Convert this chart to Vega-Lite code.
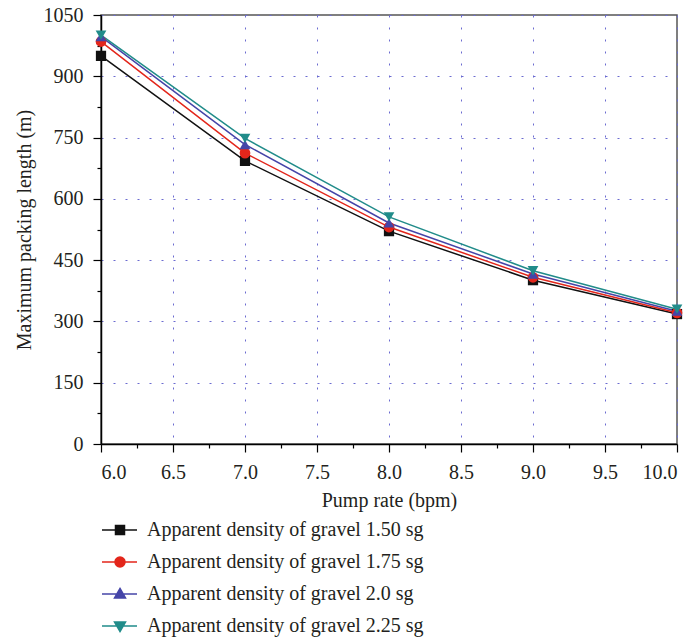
{
  "$schema": "https://vega.github.io/schema/vega-lite/v6.json",
  "width": 576,
  "height": 429,
  "autosize": {"type": "none"},
  "padding": {"left": 101, "top": 15, "right": 18, "bottom": 196},
  "background": "white",
  "config": {
    "font": "Liberation Serif",
    "view": {"stroke": "#555555", "strokeWidth": 1.5},
    "axis": {"labelFont": "Liberation Serif", "titleFont": "Liberation Serif"},
    "legend": {"labelFont": "Liberation Serif"}
  },
  "data": {
    "values": [
      {"rate": 6, "length": 950, "series": "Apparent density of gravel 1.50 sg"},
      {"rate": 7, "length": 693, "series": "Apparent density of gravel 1.50 sg"},
      {"rate": 8, "length": 521, "series": "Apparent density of gravel 1.50 sg"},
      {"rate": 9, "length": 401, "series": "Apparent density of gravel 1.50 sg"},
      {"rate": 10, "length": 318, "series": "Apparent density of gravel 1.50 sg"},
      {"rate": 6, "length": 985, "series": "Apparent density of gravel 1.75 sg"},
      {"rate": 7, "length": 712, "series": "Apparent density of gravel 1.75 sg"},
      {"rate": 8, "length": 531, "series": "Apparent density of gravel 1.75 sg"},
      {"rate": 9, "length": 408, "series": "Apparent density of gravel 1.75 sg"},
      {"rate": 10, "length": 321, "series": "Apparent density of gravel 1.75 sg"},
      {"rate": 6, "length": 997, "series": "Apparent density of gravel 2.0 sg"},
      {"rate": 7, "length": 733, "series": "Apparent density of gravel 2.0 sg"},
      {"rate": 8, "length": 541, "series": "Apparent density of gravel 2.0 sg"},
      {"rate": 9, "length": 416, "series": "Apparent density of gravel 2.0 sg"},
      {"rate": 10, "length": 325, "series": "Apparent density of gravel 2.0 sg"},
      {"rate": 6, "length": 1001, "series": "Apparent density of gravel 2.25 sg"},
      {"rate": 7, "length": 748, "series": "Apparent density of gravel 2.25 sg"},
      {"rate": 8, "length": 556, "series": "Apparent density of gravel 2.25 sg"},
      {"rate": 9, "length": 424, "series": "Apparent density of gravel 2.25 sg"},
      {"rate": 10, "length": 330, "series": "Apparent density of gravel 2.25 sg"}
    ]
  },
  "resolve": {"axis": {"x": "independent", "y": "independent"}},
  "layer": [
    {
      "mark": {"type": "line", "strokeWidth": 1.5},
      "encoding": {
        "x": {
          "field": "rate", "type": "quantitative",
          "scale": {"domain": [6, 10], "nice": false, "zero": false},
          "axis": {"orient": "bottom", "values": [6, 6.5, 7, 7.5, 8, 8.5, 9, 9.5, 10], "format": ".1f", "tickSize": 8, "tickWidth": 1.2, "tickColor": "#000", "domainColor": "#000", "domainWidth": 1.5, "labelFont": "Liberation Serif", "labelFontSize": 20, "labelColor": "#231f20", "labelPadding": 10, "title": "Pump rate (bpm)", "titleFont": "Liberation Serif", "titleFontSize": 20, "titleFontWeight": "normal", "titleColor": "#231f20", "titlePadding": 8, "grid": true, "gridDash": [2, 10], "gridColor": "#6b6bd0", "gridWidth": 1}
        },
        "y": {
          "field": "length", "type": "quantitative",
          "scale": {"domain": [0, 1050], "nice": false},
          "axis": {"orient": "left", "values": [0, 150, 300, 450, 600, 750, 900, 1050], "format": "d", "tickSize": 8, "tickWidth": 1.2, "tickColor": "#000", "domainColor": "#000", "domainWidth": 1.5, "labelFont": "Liberation Serif", "labelFontSize": 20, "labelColor": "#231f20", "labelPadding": 10, "title": "Maximum packing length (m)", "titleFont": "Liberation Serif", "titleFontSize": 20, "titleFontWeight": "normal", "titleColor": "#231f20", "titlePadding": 9, "grid": true, "gridDash": [2, 10], "gridColor": "#6b6bd0", "gridWidth": 1}
        },
        "color": {
          "field": "series", "type": "nominal",
          "scale": {
            "domain": ["Apparent density of gravel 1.50 sg", "Apparent density of gravel 1.75 sg", "Apparent density of gravel 2.0 sg", "Apparent density of gravel 2.25 sg"],
            "range": ["#111111", "#e3261b", "#4545a8", "#218c8a"]
          },
          "legend": {
            "orient": "bottom",
            "direction": "vertical",
            "title": null,
            "offset": 9,
            "labelFont": "Liberation Serif",
            "labelFontSize": 20,
            "labelColor": "#231f20",
            "labelOffset": 24,
            "labelLimit": 0,
            "rowPadding": 11,
            "symbolSize": 400,
            "symbolStrokeWidth": 1.5,
            "encode": {
              "symbols": {
                "update": {
                  "shape": {"signal": "['M-1,0H2.5M0.35,-0.45H1.25V0.45H0.35Z','M-1,0H2.5M0.3,0A0.5,0.5 0 1,0 1.3,0A0.5,0.5 0 1,0 0.3,0Z','M-1,0H2.5M0.8,-0.55L1.35,0.4L0.25,0.4Z','M-1,0H2.5M0.8,0.55L1.35,-0.4L0.25,-0.4Z'][indexof(['Apparent density of gravel 1.50 sg','Apparent density of gravel 1.75 sg','Apparent density of gravel 2.0 sg','Apparent density of gravel 2.25 sg'], datum.value)]"},
                  "fill": {"signal": "['#111111','#e3261b','#4545a8','#218c8a'][indexof(['Apparent density of gravel 1.50 sg','Apparent density of gravel 1.75 sg','Apparent density of gravel 2.0 sg','Apparent density of gravel 2.25 sg'], datum.value)]"},
                  "stroke": {"signal": "['#111111','#e3261b','#4545a8','#218c8a'][indexof(['Apparent density of gravel 1.50 sg','Apparent density of gravel 1.75 sg','Apparent density of gravel 2.0 sg','Apparent density of gravel 2.25 sg'], datum.value)]"},
                  "strokeWidth": {"value": 1.5},
                  "opacity": {"value": 1}
                }
              }
            }
          }
        }
      }
    },
    {
      "transform": [{"filter": "datum.series == 'Apparent density of gravel 1.50 sg'"}],
      "mark": {"type": "point", "filled": true, "shape": "square", "size": 105, "opacity": 1},
      "encoding": {
        "x": {"field": "rate", "type": "quantitative", "axis": {"orient": "bottom", "values": [6.25, 6.75, 7.25, 7.75, 8.25, 8.75, 9.25, 9.75], "tickSize": 4, "tickWidth": 1.2, "tickColor": "#000", "labels": false, "domain": false, "title": null, "grid": false}},
        "y": {"field": "length", "type": "quantitative", "axis": {"orient": "left", "values": [75, 225, 375, 525, 675, 825, 975], "tickSize": 4, "tickWidth": 1.2, "tickColor": "#000", "labels": false, "domain": false, "title": null, "grid": false}},
        "color": {"field": "series", "type": "nominal"}
      }
    },
    {
      "transform": [{"filter": "datum.series == 'Apparent density of gravel 1.75 sg'"}],
      "mark": {"type": "point", "filled": true, "shape": "circle", "size": 115, "opacity": 1},
      "encoding": {
        "x": {"field": "rate", "type": "quantitative", "axis": null},
        "y": {"field": "length", "type": "quantitative", "axis": null},
        "color": {"field": "series", "type": "nominal"}
      }
    },
    {
      "transform": [{"filter": "datum.series == 'Apparent density of gravel 2.0 sg'"}],
      "mark": {"type": "point", "filled": true, "shape": "triangle-up", "size": 115, "opacity": 1},
      "encoding": {
        "x": {"field": "rate", "type": "quantitative", "axis": null},
        "y": {"field": "length", "type": "quantitative", "axis": null},
        "color": {"field": "series", "type": "nominal"}
      }
    },
    {
      "transform": [{"filter": "datum.series == 'Apparent density of gravel 2.25 sg'"}],
      "mark": {"type": "point", "filled": true, "shape": "triangle-down", "size": 115, "opacity": 1},
      "encoding": {
        "x": {"field": "rate", "type": "quantitative", "axis": null},
        "y": {"field": "length", "type": "quantitative", "axis": null},
        "color": {"field": "series", "type": "nominal"}
      }
    }
  ]
}
